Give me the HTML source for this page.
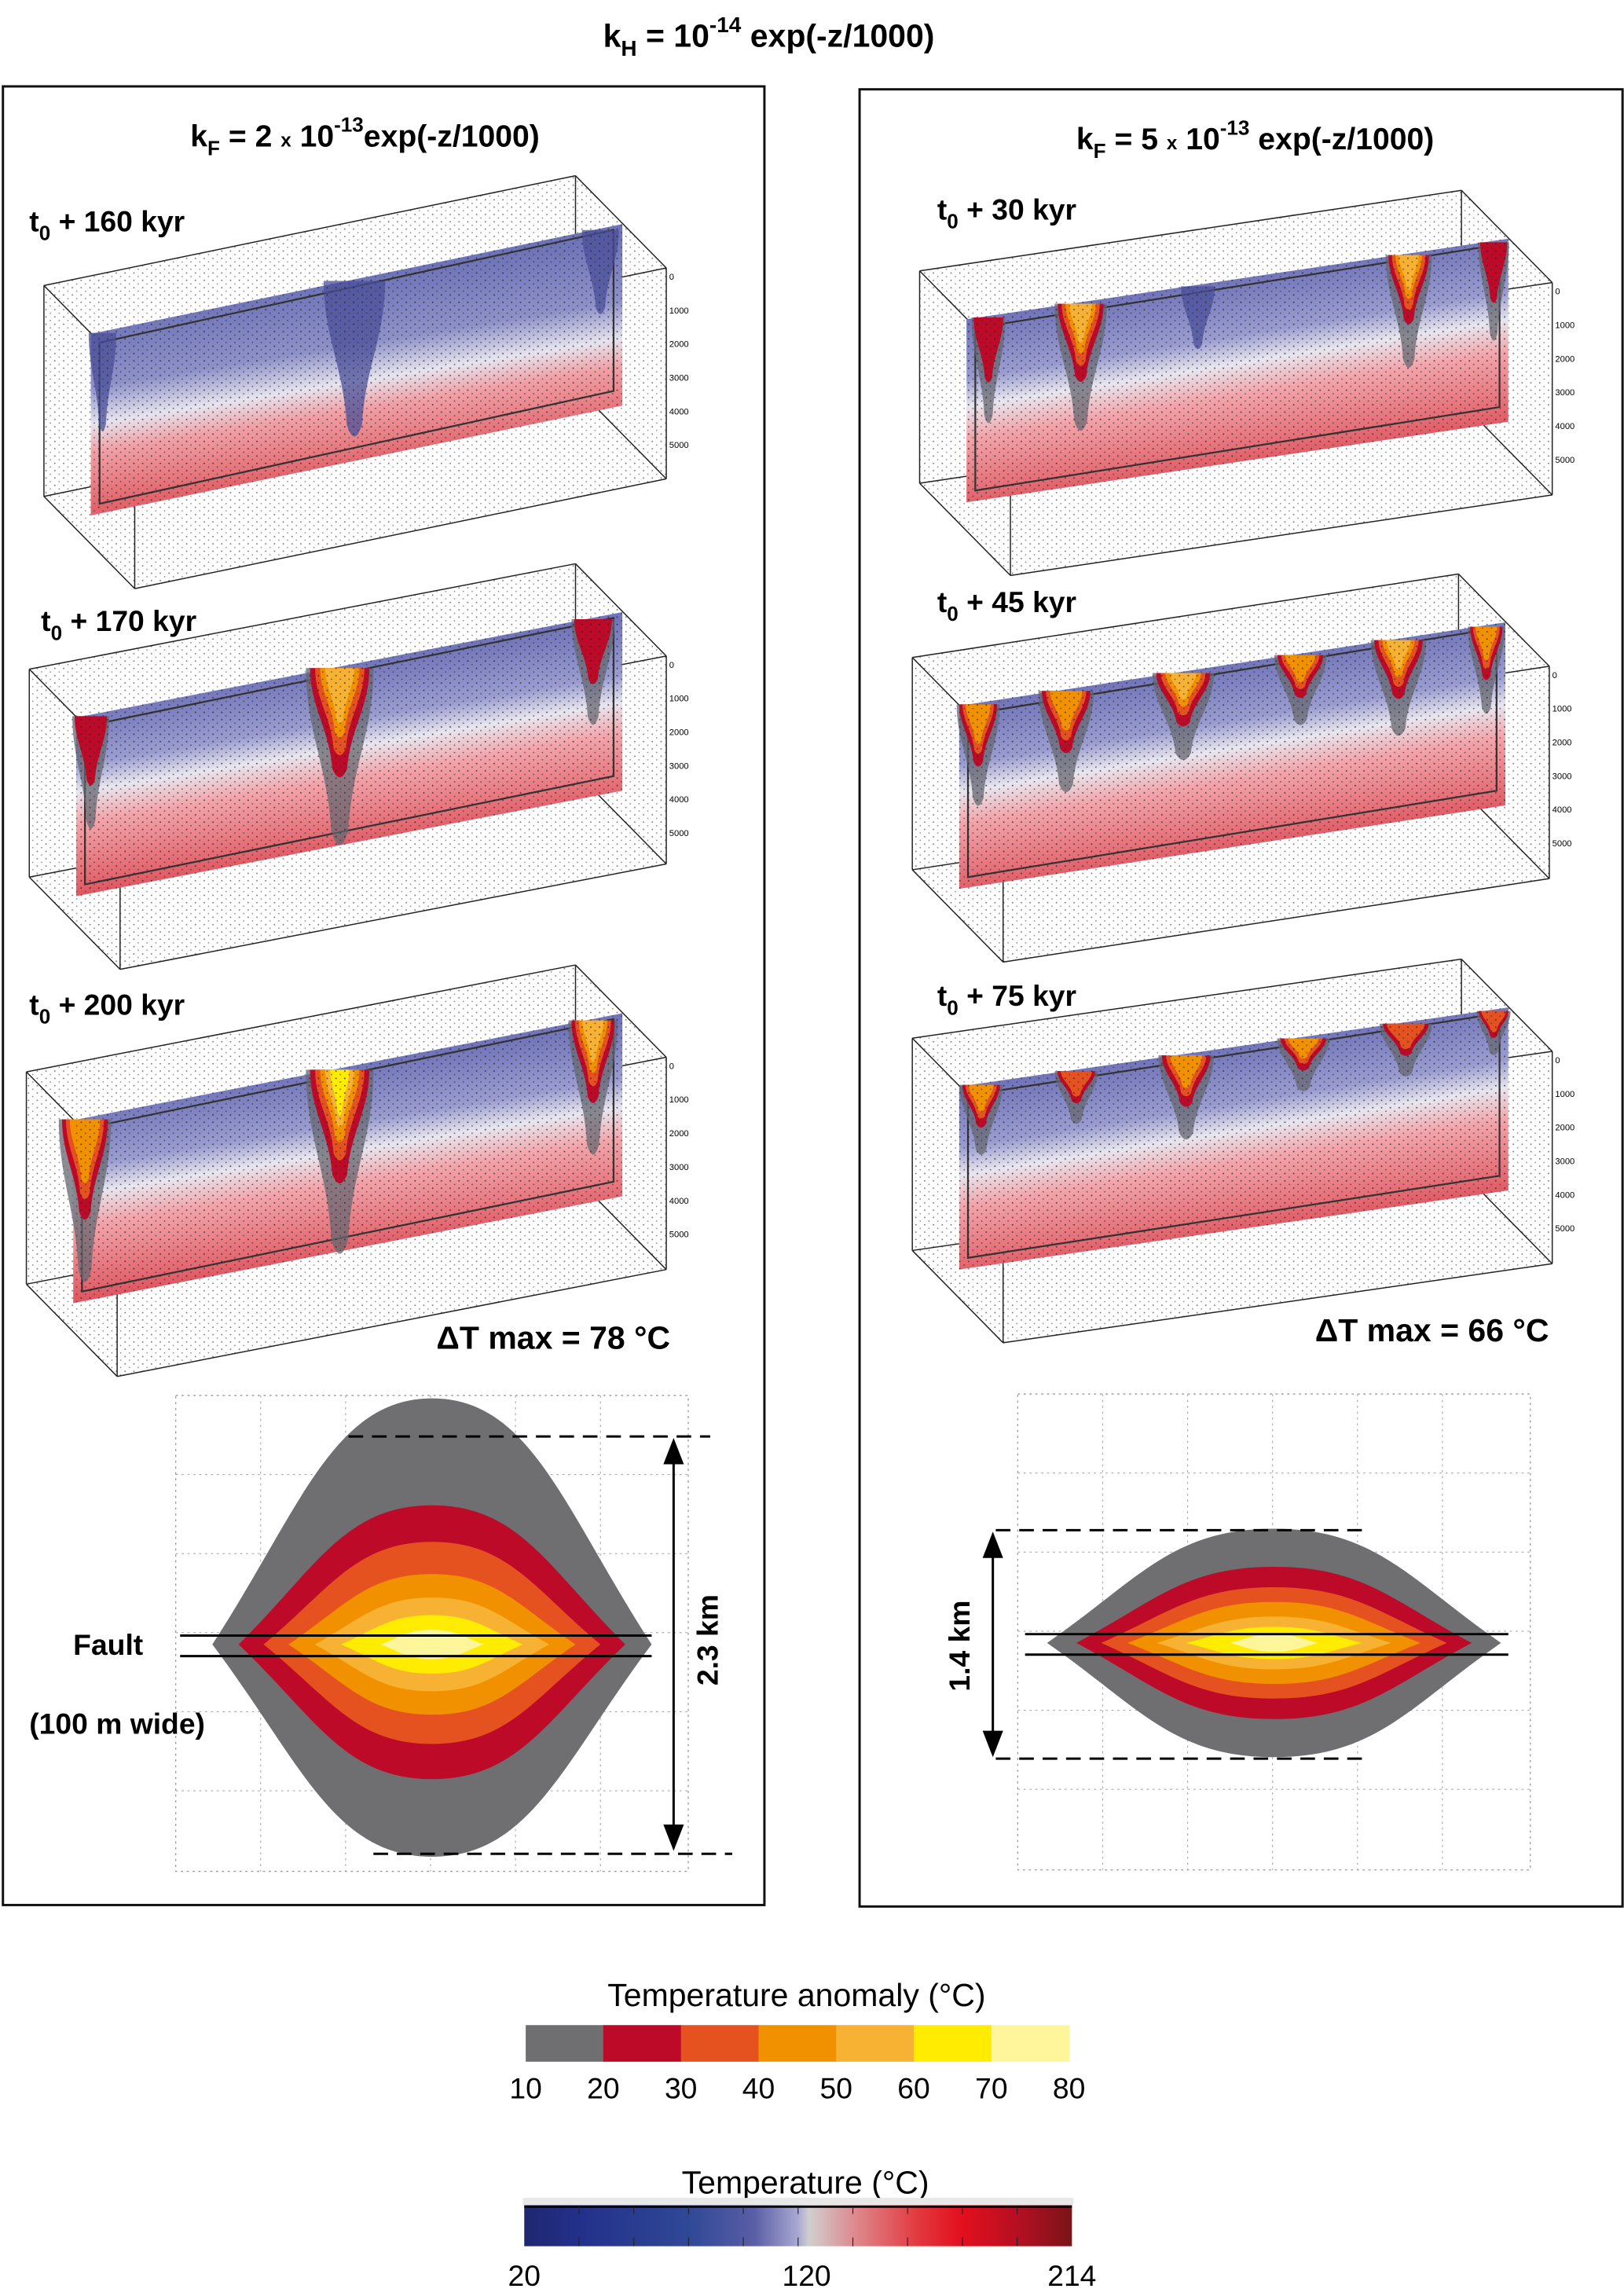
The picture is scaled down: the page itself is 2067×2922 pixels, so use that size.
<!DOCTYPE html>
<html><head><meta charset="utf-8"><style>
html,body{margin:0;padding:0;background:#fff}
svg{display:block;font-family:"Liberation Sans",Arial,sans-serif}
</style></head><body>
<svg id="fig" width="2067" height="2922" viewBox="0 0 1109 1568" preserveAspectRatio="none" xmlns="http://www.w3.org/2000/svg">
<defs>
<pattern id="dots" width="6" height="5" patternUnits="userSpaceOnUse"><rect x="1" y="1" width="0.9" height="0.9" fill="#222"/><rect x="4" y="3.5" width="0.8" height="0.8" fill="#333"/></pattern>
<linearGradient id="tbar" x1="0" y1="0" x2="1" y2="0">
<stop offset="0" stop-color="#1f2770"/><stop offset="0.1" stop-color="#23308a"/><stop offset="0.3" stop-color="#2f4896"/><stop offset="0.42" stop-color="#5a5ea6"/><stop offset="0.5" stop-color="#a9a8d2"/><stop offset="0.52" stop-color="#d0cfcf"/><stop offset="0.6" stop-color="#dd8c90"/><stop offset="0.72" stop-color="#e2383e"/><stop offset="0.8" stop-color="#e30f1d"/><stop offset="0.9" stop-color="#b60f22"/><stop offset="1" stop-color="#7a1418"/></linearGradient>
</defs>
<text x="525" y="32" font-size="22" font-weight="bold" text-anchor="middle">k<tspan font-size="15" dy="6">H</tspan><tspan dy="-6"> = 10</tspan><tspan font-size="15" dy="-10">-14</tspan><tspan dy="10"> exp(-z/1000)</tspan></text>
<rect x="2" y="59" width="520" height="1242" fill="none" stroke="#111" stroke-width="1.6"/>
<rect x="587" y="61" width="521" height="1241" fill="none" stroke="#111" stroke-width="1.6"/>
<text x="130" y="100" font-size="21" font-weight="bold">k<tspan font-size="14" dy="6">F</tspan><tspan dy="-6"> = 2 </tspan><tspan font-size="13">x</tspan><tspan> 10</tspan><tspan font-size="14" dy="-10">-13</tspan><tspan dy="10">exp(-z/1000)</tspan></text>
<text x="735" y="102" font-size="21" font-weight="bold">k<tspan font-size="14" dy="6">F</tspan><tspan dy="-6"> = 5 </tspan><tspan font-size="13">x</tspan><tspan> 10</tspan><tspan font-size="14" dy="-10">-13</tspan><tspan dy="10"> exp(-z/1000)</tspan></text>
<g id="slabs"></g>
<g id="labels" font-size="20" font-weight="bold">
<text x="20" y="158">t<tspan font-size="14" dy="6">0</tspan><tspan dy="-6"> + 160 kyr</tspan></text>
<text x="28" y="431">t<tspan font-size="14" dy="6">0</tspan><tspan dy="-6"> + 170 kyr</tspan></text>
<text x="20" y="693">t<tspan font-size="14" dy="6">0</tspan><tspan dy="-6"> + 200 kyr</tspan></text>
<text x="640" y="150">t<tspan font-size="14" dy="6">0</tspan><tspan dy="-6"> + 30 kyr</tspan></text>
<text x="640" y="418">t<tspan font-size="14" dy="6">0</tspan><tspan dy="-6"> + 45 kyr</tspan></text>
<text x="640" y="687">t<tspan font-size="14" dy="6">0</tspan><tspan dy="-6"> + 75 kyr</tspan></text>
<text x="298" y="921" font-size="22">ΔT max = 78 °C</text>
<text x="898" y="916" font-size="22">ΔT max = 66 °C</text>
</g>
<g id="lenses"></g>
<g font-size="20" font-weight="bold">
<text x="50" y="1130">Fault</text>
<text x="20" y="1184">(100 m wide)</text>
<text transform="translate(490,1120) rotate(-90)" text-anchor="middle">2.3 km</text>
<text transform="translate(662,1124) rotate(-90)" text-anchor="middle">1.4 km</text>
</g>
<g id="cbars"></g>
</svg>
<script>
const NS='http://www.w3.org/2000/svg';
// colour bar data
const anomalyTicks=[10,20,30,40,50,60,70,80];
const anomalyColors=['#6f6f71','#bc0a28','#e5521f','#f29100','#f7b233','#ffec00','#fff59a'];
const tempTicks=[20,120,214];
const tempMin=20, tempMax=214;
// slab geometry and plume data [x, depth, half-width, levels]
const slabs=[
 {name:'slab-160kyr',tl:[62,228],tr:[425,153],h:124,plumes:[[70,70,9,0],[242,110,20,0],[410,60,12,0]],blue:true},
 {name:'slab-170kyr',tl:[52,490],tr:[425,418],h:122,plumes:[[62,80,12,1],[232,125,22,4],[405,75,14,1]]},
 {name:'slab-200kyr',tl:[50,765],tr:[425,692],h:125,plumes:[[58,115,17,3],[232,130,22,5],[405,95,16,4]]},
 {name:'slab-30kyr',tl:[660,218],tr:[1030,163],h:125,plumes:[[675,75,11,1],[738,90,17,4],[818,45,11,0],[962,80,15,4],[1020,70,10,1]]},
 {name:'slab-45kyr',tl:[655,482],tr:[1028,425],h:125,plumes:[[668,72,14,3],[728,72,18,3],[808,62,20,4],[888,50,17,3],[955,68,18,4],[1015,62,12,3]]},
 {name:'slab-75kyr',tl:[655,742],tr:[1030,688],h:125,plumes:[[670,50,14,3],[735,38,14,2],[810,60,18,3],[890,38,17,3],[960,38,17,2],[1020,32,11,2]]}
];
function mk(tag,attrs,parent){const e=document.createElementNS(NS,tag);for(const k in attrs)e.setAttribute(k,attrs[k]);parent.appendChild(e);return e;}
const sg=document.getElementById('slabs');
slabs.forEach((s,i)=>{
 const g=mk('g',{},sg);
 
 
 const [x0,y0]=s.tl,[x1,y1]=s.tr,h=s.h;
 const topY=x=>y0+(y1-y0)*(x-x0)/(x1-x0);
 const off=[[-32,-33],[30,30]];
 const ln=(a,b)=>mk('line',{x1:a[0],y1:a[1],x2:b[0],y2:b[1],stroke:'#222','stroke-width':0.8},g);
 const boxes=off.map(o=>[[x0+o[0],y0+o[1]],[x1+o[0],y1+o[1]],[x1+o[0],y1+o[1]+h+20],[x0+o[0],y0+o[1]+h+20]]);
 mk('polygon',{points:[boxes[0][0],boxes[0][1],boxes[1][1],boxes[1][2],boxes[1][3],boxes[0][3]].map(p=>p.join(',')).join(' '),fill:'url(#dots)',opacity:0.6},g);
 boxes.forEach(b=>{for(let k=0;k<4;k++)ln(b[k],b[(k+1)%4]);});
 for(let k=0;k<4;k++)ln(boxes[0][k],boxes[1][k]);
 const gid='sg'+i;
 const defs=document.querySelector('defs');
 const lg=mk('linearGradient',{id:gid,gradientUnits:'userSpaceOnUse',x1:(x0+x1)/2,y1:(y0+y1)/2,x2:(x0+x1)/2+20,y2:(y0+y1)/2+h},defs);
 const st=s.blue?[[0,'#6f74b8'],[0.35,'#8e91c8'],[0.55,'#e6e4ef'],[0.7,'#f0a0a6'],[1,'#e2646c']]:[[0,'#7275b9'],[0.3,'#9a9cd0'],[0.45,'#e8e6ef'],[0.62,'#f2a4aa'],[1,'#e05a64']];
 st.forEach(t=>mk('stop',{offset:t[0],'stop-color':t[1]},lg));
 mk('polygon',{points:`${x0},${y0} ${x1},${y1} ${x1},${y1+h} ${x0},${y0+h}`,fill:`url(#${gid})`},g);
 mk('polygon',{points:`${x0+6},${y0+6} ${x1-6},${y1+4} ${x1-6},${y1+h-10} ${x0+6},${y0+h-8}`,fill:'none',stroke:'#333','stroke-width':1.2},g);
 const levelCols=['#5c5f78','#bc0a28','#e5521f','#f29100','#f7b233','#ffec00'];
 s.plumes.forEach((p,j)=>{
  const [px,d,w,lvl]=p; const ty=topY(px);
  const pg=mk('g',{},g);
  
  
  for(let L=0;L<=lvl;L++){
   const ww=L?w*(1-(L-1)*0.17)*0.92:w*1.05;
   const dd=L?d*0.62*Math.pow(0.8,L-1):d;
   const col=L===0?(lvl===0?'#4a4f98':'#656770'):levelCols[L];
   mk('path',{d:`M${px-ww},${ty+1} C${px-ww},${ty+dd*0.35} ${px-ww*0.35},${ty+dd*0.55} ${px-ww*0.25},${ty+dd*0.9} Q${px},${ty+dd*1.05} ${px+ww*0.25},${ty+dd*0.9} C${px+ww*0.35},${ty+dd*0.55} ${px+ww},${ty+dd*0.35} ${px+ww},${ty+1} Z`,fill:col,opacity:L===0?0.75:1},pg);
  }
 });
 mk('polygon',{points:`${x0},${y0} ${x1},${y1} ${x1},${y1+h} ${x0},${y0+h}`,fill:'url(#dots)',opacity:0.8},g);
 ['0','1000','2000','3000','4000','5000'].forEach((t,k)=>{
  const tx=mk('text',{x:x1+32,y:y1+38+k*23,'font-size':6},g); tx.textContent=t;
 });
});
const lg2=document.getElementById('lenses');
function lens(cx,cy,hw,ht,hb,name,levels){
 const g=mk('g',{},lg2);
 
 
 mk('rect',{x:cx-175,y:cy-170,width:350,height:325,fill:'none',stroke:'#999','stroke-dasharray':'1.5 2.5','stroke-width':0.7},g);
 for(let k=1;k<6;k++){mk('line',{x1:cx-175+k*58,y1:cy-170,x2:cx-175+k*58,y2:cy+155,stroke:'#aaa','stroke-dasharray':'1.5 2.5','stroke-width':0.6},g);
  mk('line',{x1:cx-175,y1:cy-170+k*54,x2:cx+175,y2:cy-170+k*54,stroke:'#aaa','stroke-dasharray':'1.5 2.5','stroke-width':0.6},g);}
 levels.forEach((lv,k)=>{
  const [w,t,b,col]=lv;
  mk('path',{d:`M${cx-w},${cy} C${cx-w*0.6},${cy-t*0.55} ${cx-w*0.45},${cy-t} ${cx},${cy-t} C${cx+w*0.45},${cy-t} ${cx+w*0.6},${cy-t*0.55} ${cx+w},${cy} C${cx+w*0.6},${cy+b*0.55} ${cx+w*0.45},${cy+b} ${cx},${cy+b} C${cx-w*0.45},${cy+b} ${cx-w*0.6},${cy+b*0.55} ${cx-w},${cy} Z`,fill:col},g);
 });
 return g;
}
lens(295,1123,150,168,145,'anomaly-profile-left',[[150,168,145,'#6f6f71'],[132,95,92,'#bc0a28'],[115,70,68,'#e5521f'],[98,48,48,'#f29100'],[80,32,32,'#f7b233'],[62,20,20,'#ffec00'],[35,10,10,'#fff59a']]);
lens(870,1122,155,78,78,'anomaly-profile-right',[[155,78,78,'#6f6f71'],[135,52,52,'#bc0a28'],[118,38,38,'#e5521f'],[100,28,28,'#f29100'],[80,18,18,'#f7b233'],[60,11,11,'#ffec00'],[30,6,6,'#fff59a']]);
(function(){
 const g=document.getElementById('lenses');
 const L=(a,b,c,d,extra)=>{const e=mk('line',Object.assign({x1:a,y1:b,x2:c,y2:d,stroke:'#000','stroke-width':1.6},extra||{}),g);return e;};
 L(123,1117,445,1117);L(123,1131,445,1131);
 L(700,1116,1030,1116);L(700,1130,1030,1130);
 L(238,981,485,981,{'stroke-dasharray':'10 6'});L(255,1266,500,1266,{'stroke-dasharray':'10 6'});
 L(460,988,460,1258);mk('path',{d:'M453,1000 L460,982 L467,1000 Z'},g);mk('path',{d:'M453,1246 L460,1264 L467,1246 Z'},g);
 L(680,1045,930,1045,{'stroke-dasharray':'10 6'});L(680,1201,930,1201,{'stroke-dasharray':'10 6'});
 L(678,1052,678,1194);mk('path',{d:'M671,1064 L678,1046 L685,1064 Z'},g);mk('path',{d:'M671,1182 L678,1200 L685,1182 Z'},g);
})();
const cb=document.getElementById('cbars');
const ax0=359,ax1=730,ay=1383,ah=25;
const aScale=v=>ax0+(v-anomalyTicks[0])/(anomalyTicks[anomalyTicks.length-1]-anomalyTicks[0])*(ax1-ax0);
const t1=mk('text',{x:544,y:1370,'font-size':22,'text-anchor':'middle'},cb);t1.textContent='Temperature anomaly (°C)';


anomalyColors.forEach((c,k)=>{
 const r=mk('rect',{x:aScale(anomalyTicks[k]),y:ay,width:aScale(anomalyTicks[k+1])-aScale(anomalyTicks[k])+0.5,height:ah,fill:c},cb);
 
 
});
anomalyTicks.forEach(v=>{const t=mk('text',{x:aScale(v),y:1433,'font-size':20,'text-anchor':'middle'},cb);t.textContent=v;
 
 });
const tx0=358,tx1=732;
const tScale=v=>tx0+(v-tempMin)/(tempMax-tempMin)*(tx1-tx0);
const t2=mk('text',{x:550,y:1498,'font-size':22,'text-anchor':'middle'},cb);t2.textContent='Temperature  (°C)';


mk('rect',{x:tx0-1,y:1501,width:tx1-tx0+2,height:5,fill:'#e8e8e8'},cb);
const tb=mk('rect',{x:tx0,y:1506,width:tx1-tx0,height:28,fill:'url(#tbar)'},cb);


mk('line',{x1:tx0,y1:1507,x2:tx1,y2:1507,stroke:'#000','stroke-width':1.5},cb);
for(let k=1;k<10;k++){const x=tx0+k*(tx1-tx0)/10;mk('line',{x1:x,y1:1507,x2:x,y2:1512,stroke:'#222','stroke-width':0.6},cb);mk('line',{x1:x,y1:1528,x2:x,y2:1534,stroke:'#222','stroke-width':0.6},cb);}
tempTicks.forEach(v=>{const t=mk('text',{x:tScale(v),y:1561,'font-size':20,'text-anchor':'middle'},cb);t.textContent=v;
 
 });
</script>
</body></html>
